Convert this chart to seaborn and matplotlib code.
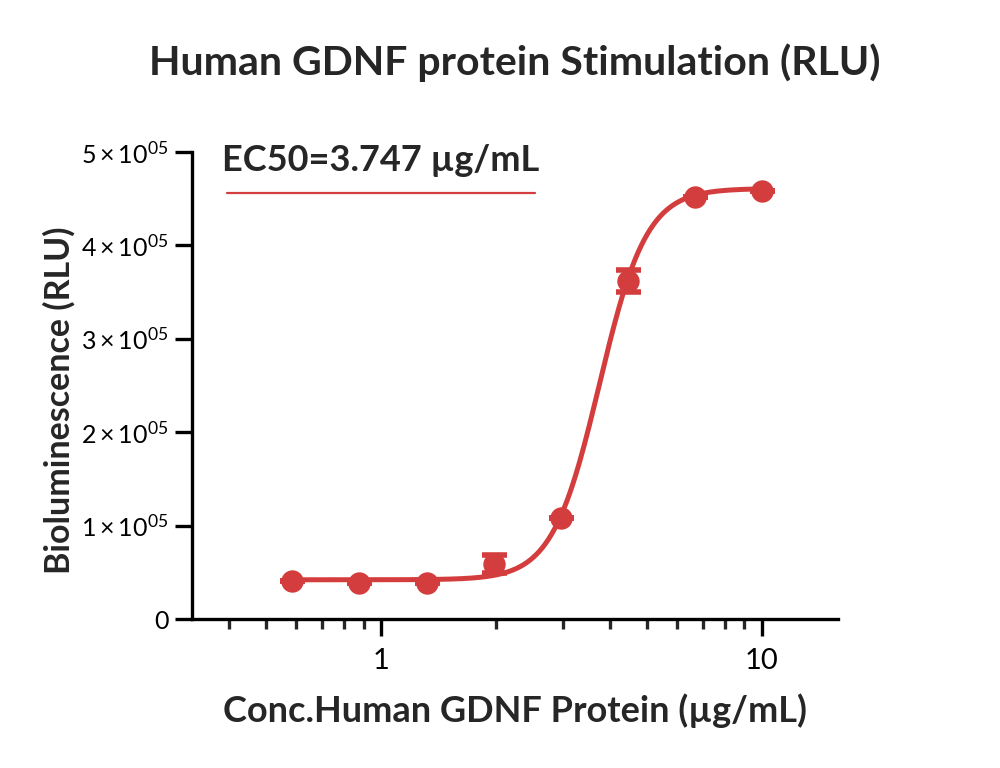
import numpy as np
import pandas as pd
import matplotlib
matplotlib.use('Agg')
import matplotlib.pyplot as plt
import seaborn as sns
from matplotlib.ticker import FixedLocator, LogLocator, NullFormatter

sns.set_style('ticks')
plt.rcParams['font.family'] = ['Lato', 'DejaVu Sans']
plt.rcParams['mathtext.fontset'] = 'custom'
plt.rcParams['mathtext.rm'] = 'Lato'
plt.rcParams['mathtext.it'] = 'Lato:italic'
plt.rcParams['mathtext.bf'] = 'Lato:bold'

# 数据：浓度 (µg/mL)、发光值 (RLU)、误差
conc = [0.585, 0.878, 1.317, 1.975, 2.963, 4.444, 6.667, 10.0]
rlu = [40700, 38500, 38500, 59000, 108000, 362000, 452000, 458000]
err = [0, 0, 0, 10000, 0, 12000, 0, 0]

# 4PL 拟合参数
bottom, top, ec50, hill = 42000, 461000, 3.747, 7.0

red = '#d43d3d'

df = pd.DataFrame({'conc': conc, 'rlu': rlu, 'err': err})
x_fit = np.logspace(np.log10(min(conc)), np.log10(max(conc)), 300)
y_fit = bottom + (top - bottom) / (1 + (ec50 / x_fit) ** hill)
fit = pd.DataFrame({'conc': x_fit, 'rlu': y_fit})

fig = plt.figure(figsize=(10, 7.68), dpi=100)
ax = fig.add_axes([0.192, 0.194, 0.646, 0.608])

sns.lineplot(data=fit, x='conc', y='rlu', color=red, linewidth=3.6, ax=ax)
ax.errorbar(df['conc'], df['rlu'], yerr=df['err'], fmt='none', ecolor=red,
            elinewidth=3, capsize=9, capthick=4, zorder=3)
sns.scatterplot(data=df, x='conc', y='rlu', color=red, s=260, edgecolor=red,
                linewidth=0, ax=ax, zorder=4)

ax.set_xscale('log')
ax.set_xlim(0.319, 15.85)
ax.set_ylim(0, 5e5)

ax.xaxis.set_major_locator(FixedLocator([1, 10]))
ax.set_xticklabels(['1', '10'])
ax.xaxis.set_minor_locator(LogLocator(base=10, subs=np.arange(2, 10)))
ax.xaxis.set_minor_formatter(NullFormatter())

yt = [0, 1e5, 2e5, 3e5, 4e5, 5e5]
ax.set_yticks(yt)
ax.set_yticklabels(['0'] + [r'$%d\times10^{05}$' % i for i in range(1, 6)])

for s in ['top', 'right']:
    ax.spines[s].set_visible(False)
for s in ['left', 'bottom']:
    ax.spines[s].set_linewidth(2.4)
    ax.spines[s].set_color('black')

ax.tick_params(axis='both', which='major', length=12, width=2.4,
               colors='black', pad=5)
ax.tick_params(axis='y', labelsize=18)
ax.tick_params(axis='x', which='major', labelsize=21, pad=9)
ax.tick_params(axis='x', which='minor', length=7, width=2.4)

ax.set_xlabel('Conc.Human GDNF Protein (µg/mL)', fontsize=26, fontweight='bold',
              labelpad=14)
ax.set_ylabel('Bioluminescence (RLU)', fontsize=24.5, fontweight='bold')
ax.yaxis.set_label_coords(-0.181, 0.469)
fig.suptitle('Human GDNF protein Stimulation (RLU)', fontsize=29.5,
             fontweight='bold', x=0.515, y=0.918, va='center')

# EC50 标注
ax.text(0.046, 0.983, 'EC50=3.747 µg/mL', transform=ax.transAxes, fontsize=26,
        fontweight='bold', va='center', ha='left')
ax.plot([0.054, 0.531], [0.912, 0.912], transform=ax.transAxes, color=red,
        linewidth=1.6, clip_on=False)

fig.savefig('out.png', dpi=100)
